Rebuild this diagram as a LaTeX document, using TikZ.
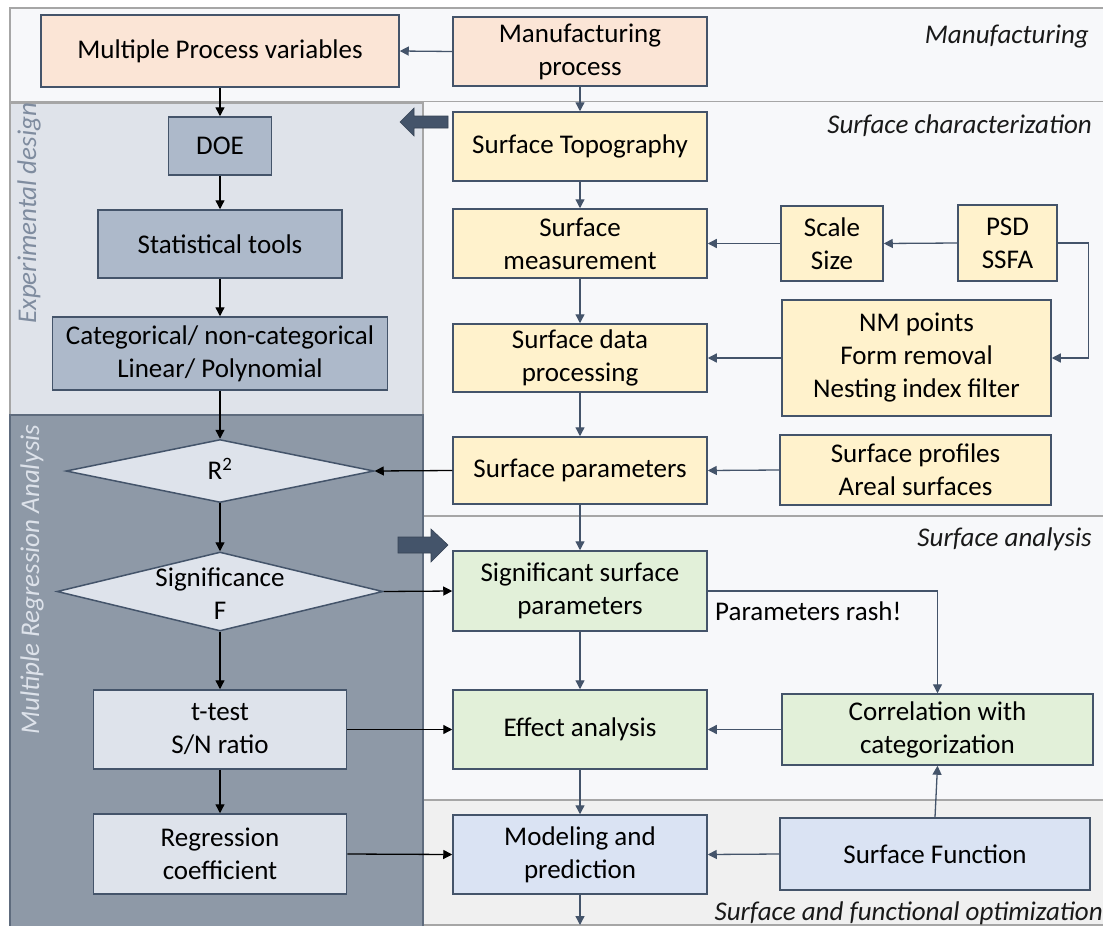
\documentclass[tikz,border=0pt]{standalone}
\usepackage{fontspec}
\setmainfont{Carlito}
\usetikzlibrary{arrows.meta,shapes.geometric}
\definecolor{peach}{HTML}{FBE5D6}
\definecolor{ylw}{HTML}{FFF2CC}
\definecolor{grn}{HTML}{E2F0D9}
\definecolor{blu}{HTML}{DAE3F3}
\definecolor{slate}{HTML}{ADB9CA}
\definecolor{light}{HTML}{DEE3EB}
\definecolor{boxline}{HTML}{44546A}
\definecolor{panelbg}{HTML}{F7F8FA}
\definecolor{optbg}{HTML}{F0F0F0}
\definecolor{expbg}{HTML}{DFE3EA}
\definecolor{mrabg}{HTML}{8E99A7}
\definecolor{panelline}{HTML}{A6A6A6}
\definecolor{mraline}{HTML}{5E6B7D}
\definecolor{explabel}{HTML}{7F8C9F}
\definecolor{mralabel}{HTML}{DDE2EA}
\newcommand{\bxfont}{\fontsize{27}{33}\selectfont}
\begin{document}
\begin{tikzpicture}[x=1pt,y=-1pt,
  box/.style={draw=boxline, line width=1.5pt, align=center, inner sep=0pt, font=\bxfont, text=black},
  pbox/.style={box, fill=peach},
  ybox/.style={box, fill=ylw},
  gbox/.style={box, fill=grn},
  bbox/.style={box, fill=blu},
  sbox/.style={box, fill=slate},
  lbox/.style={box, fill=light},
  dbox/.style={diamond, draw=boxline, line width=1.5pt, fill=light, inner sep=0pt},
  txt/.style={font=\bxfont, align=center, inner sep=0pt},
  section/.style={font=\bxfont\itshape, inner sep=0pt, text=black!90},
  garrow/.style={draw=boxline, line width=1.3pt, -{Triangle[length=9pt,width=9pt]}},
  karrow/.style={draw=black, line width=1.3pt, -{Triangle[length=9pt,width=9pt]}},
  blockarrow/.style={fill=boxline, draw=boxline!80!black, line width=0.6pt}
]
\useasboundingbox (0,0) rectangle (1103,926);
\fill[white] (0,0) rectangle (1103,926);
% panels
\fill[panelbg] (10,8) rectangle (1110,102);
\draw[panelline, line width=1.5pt] (1110,8) -- (10,8) -- (10,102) -- (1110,102);
\fill[panelbg] (423,102) rectangle (1110,516);
\fill[panelbg] (423,516) rectangle (1110,800);
\fill[optbg] (423,800) rectangle (1110,925);
\draw[panelline, line width=1.5pt] (423,516) -- (1110,516);
\draw[panelline, line width=2.5pt] (423,800) -- (1110,800);
\draw[panelline, line width=2pt] (423,925) -- (1110,925);
\fill[expbg] (10,103) rectangle (423,415);
\draw[panelline, line width=1.5pt] (10,103) rectangle (423,415);
\fill[mrabg] (10,415) rectangle (423,935);
\draw[mraline, line width=1.5pt] (10,935) -- (10,415) -- (423,415) -- (423,935);
% section labels
\node[section, anchor=base east] (lmfg) at (1089,43) {Manufacturing};
\node[section, anchor=base east] (lchar) at (1092,133) {Surface characterization};
\node[section, anchor=base east] (lana) at (1092,546) {Surface analysis};
\node[section, anchor=base east] (lopt) at (1103,920) {Surface and functional optimization};
\node[section, anchor=base west, rotate=90, text=explabel] (lexp) at (36,324) {Experimental design};
\node[section, anchor=base west, rotate=90, text=mralabel] (lmra) at (39,735) {Multiple Regression Analysis};
% block arrows
\path[blockarrow] (400,122) -- (414,108) -- (414,116) -- (448,116) -- (448,128) -- (414,128) -- (414,136) -- cycle;
\path[blockarrow] (448,545) -- (431,529) -- (431,537) -- (398,537) -- (398,553) -- (431,553) -- (431,562) -- cycle;
% left column
\node[pbox, minimum width=358, minimum height=72] (mpv) at (220,51) {Multiple Process variables};
\node[sbox, minimum width=103, minimum height=58] (doe) at (220,146) {DOE};
\node[sbox, minimum width=244, minimum height=68] (stat) at (220,244) {Statistical tools};
\node[sbox, minimum width=335, minimum height=73] (cat) at (220,353.5) {Categorical/ non-categorical\\Linear/ Polynomial};
\node[dbox, minimum width=308, minimum height=63] (r2) at (220,471) {};
\node[txt] (r2t) at (220,469) {R\textsuperscript{2}};
\node[dbox, minimum width=326, minimum height=79] (sigd) at (220,591.5) {};
\node[txt] (sigt) at (220,594) {Significance\\F};
\node[lbox, minimum width=253, minimum height=79] (tt) at (220,729.5) {t-test\\S/N ratio};
\node[lbox, minimum width=253, minimum height=80] (reg) at (220,854) {Regression\\coefficient};
% middle column
\node[pbox, minimum width=254, minimum height=69] (mfg) at (580,51.5) {Manufacturing\\process};
\node[ybox, minimum width=254, minimum height=69] (topo) at (580,146.5) {Surface Topography};
\node[ybox, minimum width=254, minimum height=69] (meas) at (580,243.5) {Surface\\measurement};
\node[ybox, minimum width=254, minimum height=68] (proc) at (580,358) {Surface data\\processing};
\node[ybox, minimum width=254, minimum height=67] (param) at (580,470.5) {Surface parameters};
\node[gbox, minimum width=254, minimum height=80] (ssp) at (580,591) {Significant surface\\parameters};
\node[gbox, minimum width=254, minimum height=79] (eff) at (580,729.5) {Effect analysis};
\node[bbox, minimum width=254, minimum height=79] (model) at (580,854.5) {Modeling and\\prediction};
\coordinate (out) at (580,925);
% right column
\node[ybox, minimum width=102, minimum height=75] (scale) at (832,243.5) {Scale\\Size};
\node[ybox, minimum width=99, minimum height=76] (psd) at (1007.5,243) {PSD\\SSFA};
\node[ybox, minimum width=269, minimum height=116] (nm) at (916.5,358) {NM points\\Form removal\\Nesting index filter};
\node[ybox, minimum width=271, minimum height=70] (prof) at (915.5,470) {Surface profiles\\Areal surfaces};
\node[gbox, minimum width=311, minimum height=71] (corr) at (937.5,729.5) {Correlation with\\categorization};
\node[bbox, minimum width=310, minimum height=72] (func) at (935,854) {Surface Function};
\node[txt, anchor=base west] (rash) at (715,620) {Parameters rash!};
% gray connectors
\draw[garrow] (mfg.west) -- (mpv.east);
\draw[garrow] (mfg.south) -- (topo.north);
\draw[garrow] (topo.south) -- (meas.north);
\draw[garrow] (meas.south) -- (proc.north);
\draw[garrow] (proc.south) -- (param.north);
\draw[garrow] (param.south) -- (ssp.north);
\draw[garrow] (ssp.south) -- (eff.north);
\draw[garrow] (eff.south) -- (model.north);
\draw[garrow] (model.south) -- (out);
\draw[garrow] (scale.west) -- (meas.east);
\draw[garrow] (psd.west) -- (scale.east);
\draw[garrow] (psd.east) -- ++(31,0) |- (nm.east);
\draw[garrow] (nm.west) -- (proc.east);
\draw[garrow] (prof.west) -- (param.east);
\draw[garrow] (ssp.east) -| (corr.north);
\draw[garrow] (corr.west) -- (eff.east);
\draw[garrow] (func.west) -- (model.east);
\draw[garrow] (func.north) -- (corr.south);
% black connectors
\draw[karrow] (mpv.south) -- (doe.north);
\draw[karrow] (doe.south) -- (stat.north);
\draw[karrow] (stat.south) -- (cat.north);
\draw[karrow] (cat.south) -- (r2.north);
\draw[karrow] (r2.south) -- (sigd.north);
\draw[karrow] (sigd.south) -- (tt.north);
\draw[karrow] (tt.south) -- (reg.north);
\draw[karrow] (param.west) -- (r2.east);
\draw[karrow] (sigd.east) -- (ssp.west);
\draw[karrow] (tt.east) -- (eff.west);
\draw[karrow] (reg.east) -- (model.west);
\end{tikzpicture}
\end{document}
